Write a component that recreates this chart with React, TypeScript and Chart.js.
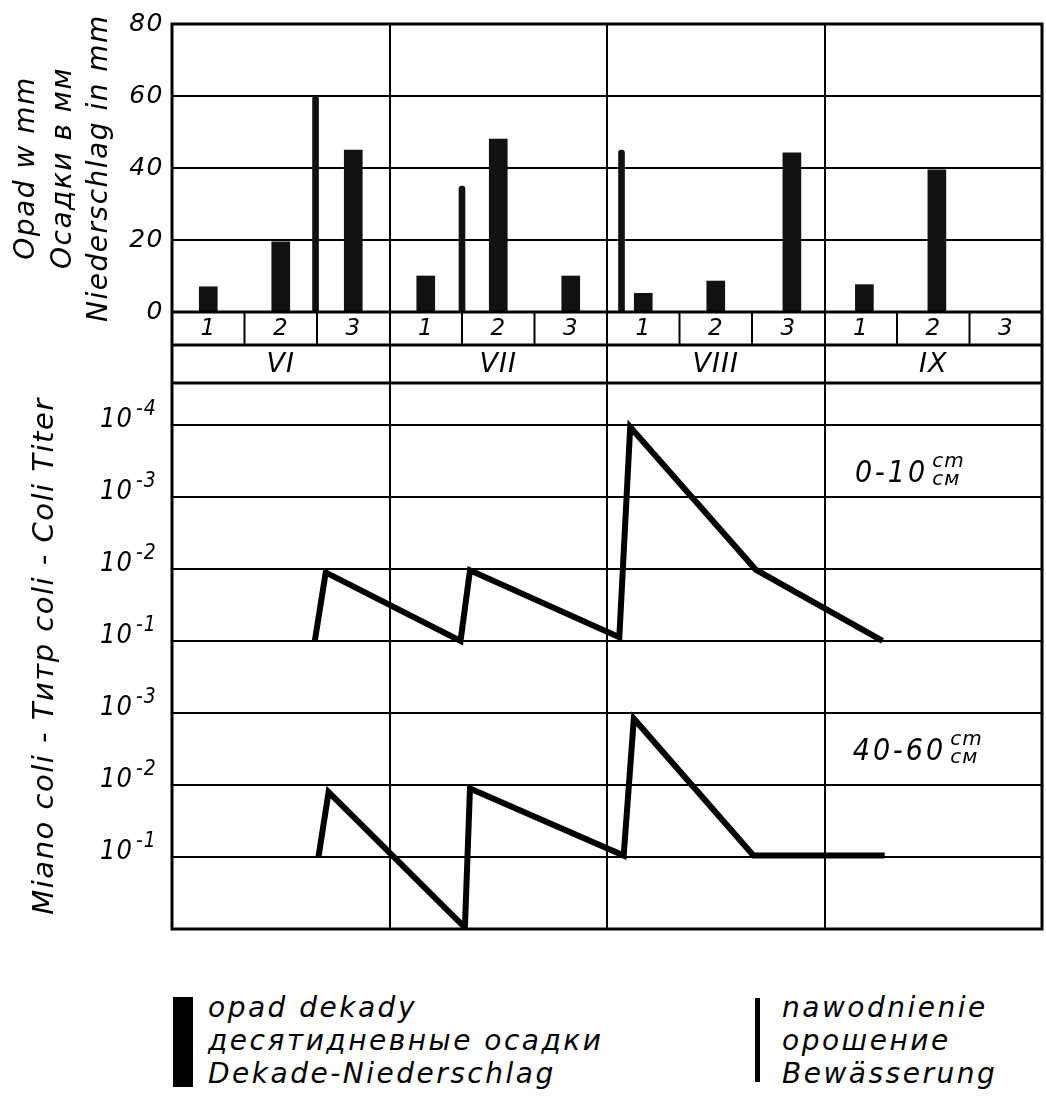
import React, { useEffect, useRef } from 'react';
import { Chart, registerables } from 'chart.js';

Chart.register(...registerables);

// ---------------- data ----------------
const months = ['VI', 'VII', 'VIII', 'IX'];
const decades = ['1', '2', '3'];
const rainTicks = [0, 20, 40, 60, 80];
// position along the season in decades (0 = start of June, 1 unit = one decade)
const rainDecadePos = [0.5, 1.5, 2.5, 3.5, 4.5, 5.5, 6.5, 7.5, 8.55, 9.55, 10.55, 11.5];
const rainMm = [7, 19.5, 45, 10, 48, 10, 5.2, 8.6, 44.2, 7.6, 39.5, 0];
const irrigationPos = [1.98, 4.0, 6.2];
const irrigationMm = [60, 35, 45];
// coli titer, given as the exponent n of 10^-n
const titerTopPos = [1.97, 2.12, 3.98, 4.11, 6.17, 6.32, 8.05, 9.8];
const titerTopExp = [1.0, 1.95, 1.0, 1.98, 1.05, 3.97, 1.99, 1.0];
const titerDeepPos = [2.02, 2.16, 4.04, 4.11, 6.23, 6.37, 8.02, 9.83];
const titerDeepExp = [1.0, 1.9, 0.02, 1.95, 1.02, 2.92, 1.02, 1.02];
const titerTickExpDeep = [1, 2, 3];
const titerTickExpTop = [1, 2, 3, 4];
const depthLabels = ['0-10', '40-60'];
const unitLabels = ['cm', 'см'];
const rainTitle = ['Opad w mm', 'Осадки в мм', 'Niederschlag in mm'];
const titerTitle = 'Miano coli - Титр coli - Coli Titer';
const legendRain = ['opad dekady', 'десятидневные осадки', 'Dekade-Niederschlag'];
const legendIrr = ['nawodnienie', 'орошение', 'Bewässerung'];

// ---------------- styling ----------------
const FF = "'DejaVu Sans', sans-serif";
const FFC = "'DejaVu Sans Condensed', 'DejaVu Sans', sans-serif";
const TOP_BAND_OFFSET = 3; // 0-10 cm band sits above the 40-60 cm band
const titerTickPos = [
  ...titerTickExpDeep.map((e) => e),
  ...titerTickExpTop.map((e) => e + TOP_BAND_OFFSET),
];
const titerTickExp = [...titerTickExpDeep, ...titerTickExpTop];

const decorPlugin = {
  id: 'decor',
  beforeDraw(chart: any) {
    chart.ctx.letterSpacing = '1.5px';
  },
  afterDraw(chart: any) {
    const { ctx, chartArea: a, scales } = chart;
    const x = scales.x;
    const yT = scales.yTable;
    const yTi = scales.yTiter;
    ctx.save();
    ctx.strokeStyle = '#000';
    ctx.fillStyle = '#000';
    ctx.letterSpacing = '1px';
    const top = yT.top;
    const bottom = yT.bottom;
    const mid = top + 33;
    ctx.lineWidth = 3;
    [top, mid, bottom].forEach((y) => {
      ctx.beginPath();
      ctx.moveTo(a.left, y);
      ctx.lineTo(a.right, y);
      ctx.stroke();
    });
    ctx.lineWidth = 2;
    const nDec = months.length * decades.length;
    for (let d = 1; d < nDec; d++) {
      if (d % decades.length === 0) continue;
      const px = x.getPixelForValue(d);
      ctx.beginPath();
      ctx.moveTo(px, top);
      ctx.lineTo(px, mid);
      ctx.stroke();
    }
    ctx.textAlign = 'center';
    ctx.textBaseline = 'middle';
    ctx.font = `italic 23px ${FF}`;
    months.forEach((_, m) => {
      decades.forEach((lab, k) => {
        const px = x.getPixelForValue(m * decades.length + k + 0.5);
        ctx.fillText(lab, px, (top + mid) / 2 + 1);
      });
    });
    ctx.font = `italic 27px ${FF}`;
    months.forEach((lab, m) => {
      const px = x.getPixelForValue(m * decades.length + decades.length / 2);
      ctx.fillText(lab, px, (mid + bottom) / 2 + 1);
    });

    // titer tick labels 10^-n
    ctx.textBaseline = 'alphabetic';
    titerTickPos.forEach((p, i) => {
      const py = yTi.getPixelForValue(p);
      ctx.textAlign = 'right';
      ctx.font = `italic 27px ${FFC}`;
      ctx.fillText('10', a.left - 39, py + 2);
      ctx.textAlign = 'left';
      ctx.font = `italic 21px ${FFC}`;
      ctx.fillText('-' + titerTickExp[i], a.left - 36, py - 10);
    });

    // depth labels
    const depthAt = [
      { x: 9.42, y: 6.32 },
      { x: 9.39, y: 2.46 },
    ];
    depthLabels.forEach((lab, i) => {
      const px = x.getPixelForValue(depthAt[i].x);
      const py = yTi.getPixelForValue(depthAt[i].y);
      ctx.textAlign = 'left';
      ctx.textBaseline = 'middle';
      ctx.font = `italic 30px ${FFC}`;
      ctx.letterSpacing = '3px';
      ctx.fillText(lab, px, py);
      const w = ctx.measureText(lab).width;
      ctx.font = `italic 20px ${FF}`;
      ctx.letterSpacing = '1px';
      ctx.fillText(unitLabels[0], px + w + 4, py - 12);
      ctx.fillText(unitLabels[1], px + w + 4, py + 6);
    });

    // frame
    ctx.lineWidth = 3;
    ctx.strokeRect(a.left, a.top, a.right - a.left, a.bottom - a.top);
    ctx.restore();
  },
};

export default function App() {
  const ref = useRef<HTMLCanvasElement>(null);
  useEffect(() => {
    const canvas = ref.current!;
    const gridBlack = { color: '#000', lineWidth: 2, drawTicks: false };
    const chart = new Chart(canvas, {
      type: 'bar',
      data: {
        datasets: [
          {
            type: 'bar',
            label: legendRain[0],
            data: rainDecadePos.map((p, i) => ({ x: p, y: rainMm[i] })),
            backgroundColor: '#111',
            barThickness: 18,
            grouped: false,
            xAxisID: 'x',
            yAxisID: 'yRain',
          },
          {
            type: 'bar',
            label: legendIrr[0],
            data: irrigationPos.map((p, i) => ({ x: p, y: irrigationMm[i] })),
            backgroundColor: '#111',
            barThickness: 6,
            borderRadius: { topLeft: 3, topRight: 3 },
            borderSkipped: 'bottom',
            grouped: false,
            xAxisID: 'x',
            yAxisID: 'yRain',
          },
          {
            type: 'line',
            label: '0-10 cm',
            data: titerTopPos.map((p, i) => ({ x: p, y: titerTopExp[i] + TOP_BAND_OFFSET })),
            borderColor: '#000',
            borderWidth: 6,
            pointRadius: 0,
            tension: 0,
            borderJoinStyle: 'miter',
            xAxisID: 'x',
            yAxisID: 'yTiter',
          },
          {
            type: 'line',
            label: '40-60 cm',
            data: titerDeepPos.map((p, i) => ({ x: p, y: titerDeepExp[i] })),
            borderColor: '#000',
            borderWidth: 6,
            pointRadius: 0,
            tension: 0,
            borderJoinStyle: 'miter',
            xAxisID: 'x',
            yAxisID: 'yTiter',
          },
        ] as any,
      },
      options: {
        animation: false,
        responsive: false,
        devicePixelRatio: 1,
        events: [],
        layout: { padding: { top: 24, right: 4, left: 0, bottom: 11 } },
        plugins: { legend: { display: false }, tooltip: { enabled: false } },
        scales: {
          x: {
            type: 'linear',
            min: 0,
            max: 12,
            offset: false,
            position: 'bottom',
            afterBuildTicks: (s: any) => {
              s.ticks = [0, 3, 6, 9, 12].map((v) => ({ value: v }));
            },
            afterFit: (s: any) => {
              s.height = 0;
            },
            ticks: { display: false },
            grid: { ...gridBlack, offset: false },
            border: { display: false },
          },
          yTiter: {
            type: 'linear',
            position: 'left',
            stack: 'left',
            stackWeight: 546,
            min: 0,
            max: 7.58,
            afterBuildTicks: (s: any) => {
              s.ticks = titerTickPos.map((v) => ({ value: v }));
            },
            afterFit: (s: any) => {
              s.width = 172;
            },
            ticks: { display: false },
            grid: gridBlack,
            border: { display: false },
            title: {
              display: true,
              text: titerTitle,
              color: '#000',
              font: { family: FF, size: 29, style: 'italic', lineHeight: 1.2 },
              padding: { top: 28, bottom: 0 },
            },
          },
          yTable: {
            type: 'linear',
            position: 'left',
            stack: 'left',
            stackWeight: 71,
            min: 0,
            max: 1,
            afterFit: (s: any) => {
              s.width = 172;
            },
            ticks: { display: false },
            grid: { display: false },
            border: { display: false },
          },
          yRain: {
            type: 'linear',
            position: 'left',
            stack: 'left',
            stackWeight: 288,
            min: 0,
            max: 80,
            afterBuildTicks: (s: any) => {
              s.ticks = rainTicks.map((v) => ({ value: v }));
            },
            afterFit: (s: any) => {
              s.width = 172;
            },
            ticks: {
              color: '#000',
              padding: 8,
              font: { family: FF, size: 25, style: 'italic' },
            },
            grid: gridBlack,
            border: { display: false },
            title: {
              display: true,
              text: rainTitle,
              color: '#000',
              font: { family: FF, size: 28, style: 'italic', lineHeight: 1.3 },
              padding: { top: 9, bottom: 0 },
            },
          },
        } as any,
      },
      plugins: [decorPlugin],
    } as any);
    return () => chart.destroy();
  }, []);

  const legendText: React.CSSProperties = {
    position: 'absolute',
    fontFamily: FF,
    fontStyle: 'italic',
    fontSize: 28,
    lineHeight: '33px',
    letterSpacing: '2.5px',
    color: '#000',
    whiteSpace: 'nowrap',
  };

  return (
    <div style={{ position: 'absolute', left: 0, top: 0, width: 1046, height: 1097, background: '#fff' }}>
      <canvas ref={ref} width={1046} height={952} style={{ display: 'block', width: 1046, height: 952 }} />
      <div style={{ position: 'absolute', left: 173, top: 997, width: 20, height: 90, background: '#000' }} />
      <div style={{ ...legendText, left: 208, top: 991 }}>
        {legendRain.map((t) => (
          <div key={t}>{t}</div>
        ))}
      </div>
      <div style={{ position: 'absolute', left: 755, top: 998, width: 5, height: 84, background: '#000' }} />
      <div style={{ ...legendText, left: 782, top: 991 }}>
        {legendIrr.map((t) => (
          <div key={t}>{t}</div>
        ))}
      </div>
    </div>
  );
}
